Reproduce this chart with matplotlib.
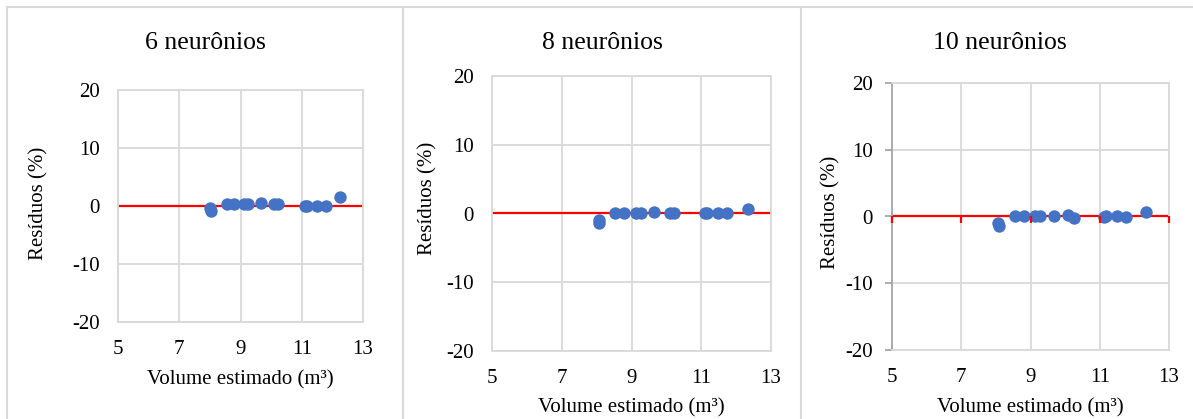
import matplotlib.pyplot as plt
from matplotlib.lines import Line2D

plt.rcParams['font.family'] = ['Liberation Serif', 'DejaVu Serif']
plt.rcParams['axes.unicode_minus'] = False

# estimated volume (m3) and residuals (%) for each network
titles = ['6 neurônios', '8 neurônios', '10 neurônios']

vol_6 = [8.02, 8.03, 8.55, 8.80, 9.10, 9.26, 9.66, 10.08, 10.24, 11.12, 11.18, 11.50, 11.78, 12.24]
res_6 = [-0.4, -0.9, 0.3, 0.3, 0.35, 0.35, 0.45, 0.35, 0.35, 0.0, 0.0, 0.05, 0.0, 1.6]

vol_8 = [8.07, 8.08, 8.54, 8.79, 9.12, 9.27, 9.65, 10.10, 10.22, 11.11, 11.16, 11.49, 11.75, 12.33]
res_8 = [-1.0, -1.4, 0.1, 0.1, 0.1, 0.1, 0.15, 0.1, 0.1, 0.0, 0.0, 0.0, 0.0, 0.65]

vol_10 = [8.07, 8.08, 8.55, 8.81, 9.13, 9.28, 9.68, 10.08, 10.27, 11.12, 11.17, 11.50, 11.77, 12.34]
res_10 = [-0.9, -1.4, 0.05, 0.05, 0.0, 0.0, 0.05, 0.15, -0.25, -0.1, 0.0, 0.0, -0.05, 0.7]

xticks = [5, 7, 9, 11, 13]
yticks = [-20, -10, 0, 10, 20]

W, H = 1193, 419
fig = plt.figure(figsize=(W / 100, H / 100), dpi=100)

grid = '#d9d9d9'
blue = '#4472C4'

# pixel boxes: left, right, top, bottom
boxes = [(118, 363, 90, 322), (492, 771, 76, 351), (892, 1169, 83, 350)]
title_pos = [(205, 43), (602, 43), (1000, 43)]
ylab_pos = [(39, 203), (428, 198), (831, 212)]
xlab_y = [380, 408, 408]

data = [(vol_6, res_6), (vol_8, res_8), (vol_10, res_10)]


def fx(px):
    return px / W


def fy(py):
    return 1 - py / H


for i, (l, r, t, b) in enumerate(boxes):
    ax = fig.add_axes([fx(l), fy(b), (r - l) / W, (b - t) / H])
    vol, res = data[i]
    ax.set_xlim(5, 13)
    ax.set_ylim(-20, 20)
    ax.set_xticks(xticks)
    ax.set_yticks(yticks)
    ax.grid(True, color=grid, lw=1.3)
    ax.set_axisbelow(True)
    for s in ax.spines.values():
        s.set_color(grid)
        s.set_linewidth(1.3)
    ax.tick_params(labelsize=15, length=0, colors='black')
    ax.tick_params(axis='x', pad=13)
    ax.tick_params(axis='y', pad=13)
    ax.axhline(0, color='red', lw=1.6, zorder=2)

    ax.scatter(vol, res, s=80, color=blue, zorder=3, linewidths=0)

    if i == 2:
        # last chart shows its axes with tick marks
        ax.spines['left'].set_color('#a6a6a6')
        ax.tick_params(axis='y', length=5, color='#a6a6a6', width=1.3, pad=9)
        ax.plot(xticks, [0] * len(xticks), ls='none', marker=3, ms=5,
                mew=1.6, color='red', zorder=4, clip_on=False)

    cx, cy = title_pos[i]
    fig.text(fx(cx), fy(cy), titles[i], ha='center', va='center', fontsize=18.5)
    yx, yy = ylab_pos[i]
    fig.text(fx(yx), fy(yy), 'Resíduos (%)', ha='center', va='center',
             rotation=90, fontsize=15)
    fig.text(fx((l + r) / 2), fy(xlab_y[i]), 'Volume estimado (m³)',
             ha='center', va='center', fontsize=15)

# panel frames
for x0, y0, x1, y1 in [(7, 7, W, 7), (7, 7, 7, H), (403, 7, 403, H), (801, 7, 801, H)]:
    fig.add_artist(Line2D([fx(x0), fx(x1)], [fy(y0), fy(y1)], color=grid, lw=1.5))

fig.savefig('out.png', dpi=100)
